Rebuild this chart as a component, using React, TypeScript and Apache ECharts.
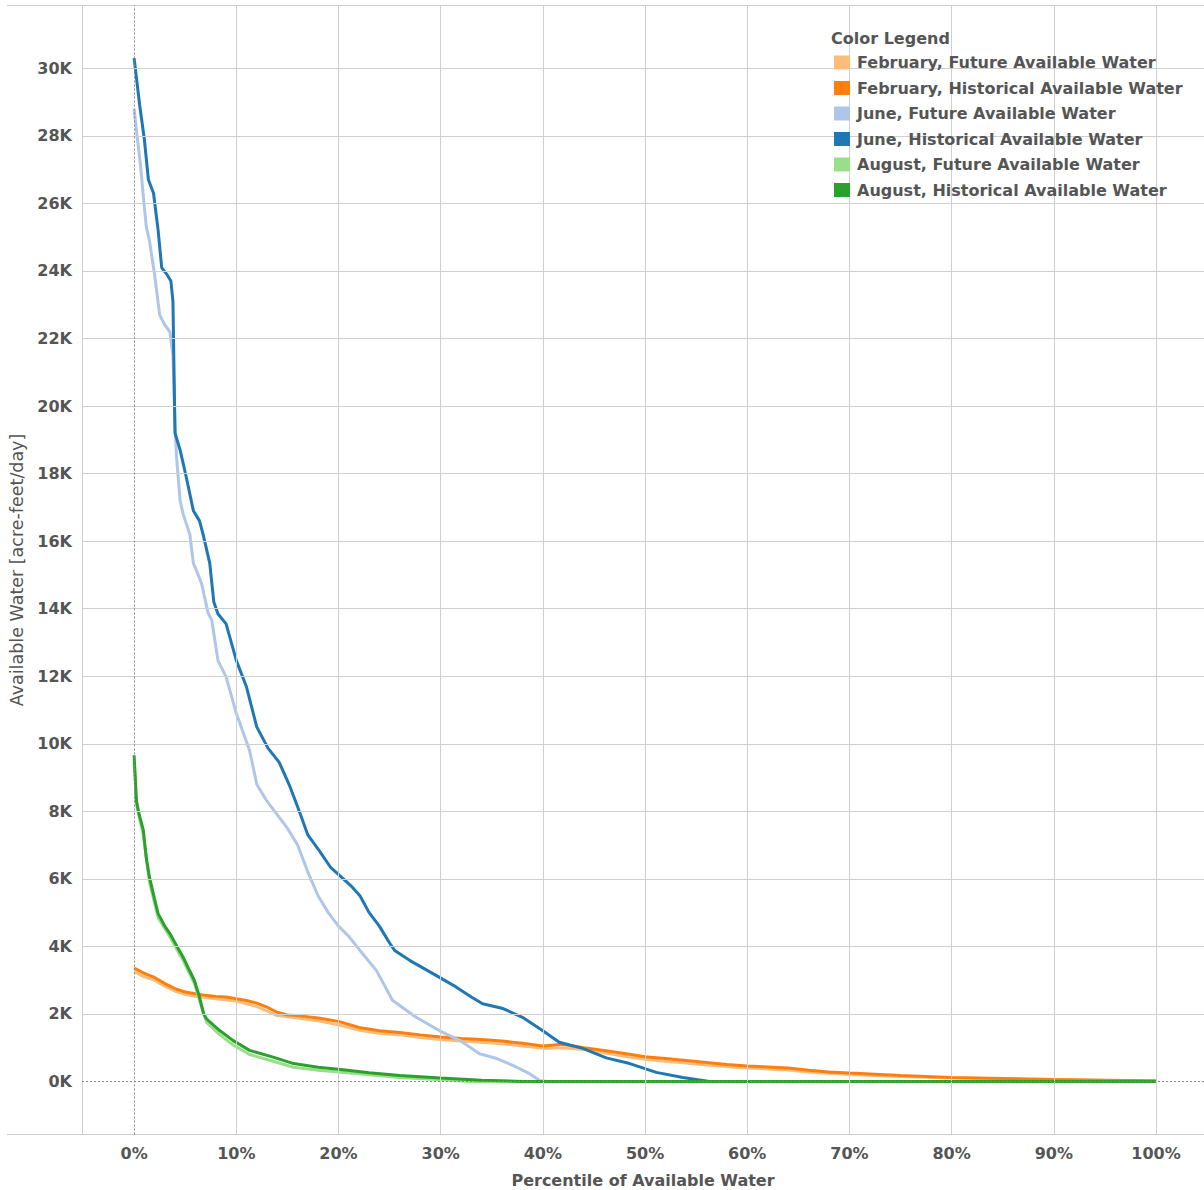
import React, { useEffect, useRef } from "react";
import * as echarts from "echarts";

// Values: x = percentile (%), y = available water (thousand acre-feet/day)
const febFuture: [number, number][] = [
  [0, 3.25], [1, 3.1], [2, 3.0], [3, 2.82], [4, 2.68], [5, 2.58], [6, 2.52], [8, 2.45], [10, 2.38],
  [12, 2.22], [14, 1.95], [16, 1.88], [18, 1.8], [20, 1.68], [22, 1.52], [24, 1.43], [26, 1.38],
  [28, 1.3], [30, 1.24], [32, 1.2], [34, 1.16], [36, 1.12], [38, 1.05], [40, 0.98], [42, 1.0],
  [44, 0.95], [46, 0.85], [48, 0.75], [50, 0.66], [52, 0.6], [54, 0.55], [56, 0.49], [58, 0.44],
  [60, 0.4], [62, 0.37], [64, 0.34], [66, 0.28], [68, 0.24], [70, 0.21], [75, 0.15], [80, 0.1],
  [85, 0.07], [90, 0.05], [95, 0.03], [100, 0.01],
];
const febHistorical: [number, number][] = [
  [0, 3.36], [1, 3.2], [2, 3.08], [3, 2.9], [4, 2.75], [5, 2.65], [6, 2.6], [7, 2.55], [8, 2.52],
  [9, 2.5], [10, 2.45], [11, 2.4], [12, 2.32], [13, 2.2], [14, 2.05], [15, 1.97], [16, 1.95],
  [18, 1.88], [20, 1.78], [22, 1.6], [24, 1.5], [26, 1.45], [28, 1.38], [30, 1.32], [32, 1.27],
  [34, 1.24], [36, 1.2], [38, 1.13], [40, 1.05], [42, 1.1], [44, 1.0], [46, 0.92], [48, 0.83],
  [50, 0.73], [52, 0.68], [54, 0.62], [56, 0.56], [58, 0.5], [60, 0.46], [62, 0.43], [64, 0.4],
  [66, 0.33], [68, 0.28], [70, 0.25], [75, 0.18], [80, 0.12], [85, 0.09], [90, 0.06], [95, 0.04],
  [100, 0.02],
];
const juneFuture: [number, number][] = [
  [0, 28.8], [0.25, 28.1], [0.6, 27.2], [1.0, 25.9], [1.2, 25.3], [1.5, 24.9], [2.0, 23.9],
  [2.5, 22.7], [3.0, 22.4], [3.5, 22.2], [3.8, 21.5], [4.0, 19.5], [4.15, 18.5], [4.5, 17.2],
  [4.8, 16.8], [5.45, 16.2], [5.8, 15.35], [6.6, 14.75], [7.24, 13.87], [7.6, 13.66], [8.2, 12.47],
  [9.0, 11.98], [10.0, 10.9], [11.3, 9.8], [12.0, 8.8], [13.0, 8.3], [14.0, 7.9], [15.0, 7.5],
  [16.0, 7.0], [17.0, 6.2], [18.0, 5.5], [19.0, 5.0], [20.0, 4.6], [21.0, 4.3], [22.1, 3.88],
  [23.7, 3.29], [25.3, 2.4], [27.6, 1.9], [29.9, 1.5], [31.9, 1.21], [33.8, 0.82], [35.5, 0.68],
  [37.1, 0.47], [38.7, 0.23], [39.7, 0.03], [40.5, 0], [100, 0],
];
const juneHistorical: [number, number][] = [
  [0, 30.3], [0.55, 28.9], [1.0, 27.9], [1.4, 26.7], [1.9, 26.3], [2.35, 25.2], [2.7, 24.1],
  [3.2, 23.9], [3.6, 23.7], [3.8, 23.1], [4.0, 19.2], [4.5, 18.7], [5.1, 17.9], [5.8, 16.9],
  [6.4, 16.6], [6.75, 16.2], [7.4, 15.35], [7.8, 14.2], [8.2, 13.85], [9.0, 13.55], [10.0, 12.47],
  [11.0, 11.68], [12.0, 10.5], [13.1, 9.87], [14.2, 9.45], [15.2, 8.77], [16.2, 7.97], [17.0, 7.3],
  [18.2, 6.8], [19.2, 6.35], [20.1, 6.1], [21.2, 5.8], [22.1, 5.5], [23.0, 5.0], [24.0, 4.6],
  [25.0, 4.1], [25.5, 3.88], [27.0, 3.58], [29.2, 3.2], [31.5, 2.8], [33.0, 2.5], [34.1, 2.3],
  [36.1, 2.16], [38.0, 1.9], [40.0, 1.5], [41.6, 1.16], [43.9, 0.98], [46.2, 0.7], [48.5, 0.53],
  [51.1, 0.27], [53.7, 0.12], [56.3, 0], [100, 0],
];
const augFuture: [number, number][] = [
  [0, 9.5], [0.23, 8.2], [0.9, 7.3], [1.5, 5.9], [2.35, 4.85], [3.5, 4.28], [4.8, 3.58],
  [5.9, 2.9], [6.4, 2.4], [7.1, 1.75], [8.4, 1.38], [9.7, 1.08], [11.3, 0.8], [13.6, 0.6],
  [15.6, 0.42], [18, 0.33], [20, 0.28], [23, 0.2], [26, 0.12], [30, 0.05], [33, 0], [100, 0],
];
const augHistorical: [number, number][] = [
  [0, 9.66], [0.23, 8.3], [0.5, 7.9], [0.9, 7.44], [1.2, 6.6], [1.5, 6.05], [2.0, 5.4],
  [2.35, 4.97], [3.0, 4.6], [3.5, 4.38], [4.2, 4.0], [4.8, 3.68], [5.4, 3.3], [5.9, 2.99],
  [6.4, 2.5], [6.8, 2.0], [7.1, 1.85], [8.4, 1.5], [9.7, 1.21], [11.3, 0.92], [13.6, 0.72],
  [15.6, 0.53], [18, 0.42], [20, 0.36], [23, 0.26], [26, 0.18], [30, 0.1], [34, 0.04], [38, 0],
  [100, 0],
];

const seriesNames = [
  "February, Future Available Water",
  "February, Historical Available Water",
  "June, Future Available Water",
  "June, Historical Available Water",
  "August, Future Available Water",
  "August, Historical Available Water",
];
const seriesColors = ["#ffbb78", "#ff7f0e", "#aec7e8", "#1f77b4", "#98df8a", "#2ca02c"];
const seriesData = [febFuture, febHistorical, juneFuture, juneHistorical, augFuture, augHistorical];

const xTicks = [0, 10, 20, 30, 40, 50, 60, 70, 80, 90, 100];
const yTicks = [0, 2, 4, 6, 8, 10, 12, 14, 16, 18, 20, 22, 24, 26, 28, 30];
const xMin = -5.1;
const xMax = 104.7;
const yMin = -1.57;
const yMax = 31.86;

const FONT = "'DejaVu Sans', Verdana, sans-serif";
const TXT = "#555555";
const GRID = "#cfcfcf";

export default function App() {
  const ref = useRef<HTMLDivElement>(null);
  useEffect(() => {
    if (!ref.current) return;
    const chart = echarts.init(ref.current, null, { renderer: "svg" });
    const gridLeft = 82;
    const gridTop = 5.5;
    const gridBottomY = 1134.5;
    const lines = seriesNames.map((name, i) => ({
      name,
      type: "line",
      data: seriesData[i],
      showSymbol: false,
      symbol: "none",
      z: 3,
      lineStyle: { color: seriesColors[i], width: 3 },
      itemStyle: { color: seriesColors[i] },
    }));
    chart.setOption({
      animation: false,
      grid: {
        left: gridLeft,
        top: gridTop,
        right: 0,
        bottom: 1190 - gridBottomY,
        containLabel: false,
        outerBoundsMode: "none",
      },
      xAxis: {
        type: "value",
        min: xMin,
        max: xMax,
        axisLine: { show: false },
        axisTick: { show: false },
        splitLine: { show: false },
        axisLabel: {
          customValues: xTicks,
          formatter: (v: number) => `${v}%`,
          color: TXT,
          fontFamily: FONT,
          fontWeight: "bold",
          fontSize: 16,
          margin: 11,
        },
        name: "Percentile of Available Water",
        nameLocation: "middle",
        nameGap: 38,
        nameTextStyle: { color: TXT, fontFamily: FONT, fontWeight: "bold", fontSize: 16 },
      },
      yAxis: {
        type: "value",
        min: yMin,
        max: yMax,
        axisLine: { show: false },
        axisTick: { show: false },
        splitLine: { show: false },
        axisLabel: {
          customValues: yTicks,
          formatter: (v: number) => `${v}K`,
          color: TXT,
          fontFamily: FONT,
          fontWeight: "bold",
          fontSize: 16,
          margin: 10,
        },
        name: "Available Water [acre-feet/day]",
        nameLocation: "middle",
        nameRotate: 90,
        nameGap: 44,
        nameTextStyle: { color: TXT, fontFamily: FONT, fontWeight: "normal", fontSize: 17.5 },
      },
      legend: {
        data: seriesNames,
        orient: "vertical",
        left: 829,
        top: 49.5,
        icon: "rect",
        itemWidth: 16,
        itemHeight: 14,
        itemGap: 9.5,
        selectedMode: false,
        z: 6,
        textStyle: {
          color: TXT,
          fontFamily: FONT,
          fontWeight: "bold",
          fontSize: 16,
          lineHeight: 16,
          padding: [0, 0, 0, 2],
        },
      },
      graphic: [
        { type: "line", z: 1, shape: { x1: 7, y1: gridTop, x2: 1204, y2: gridTop }, style: { stroke: GRID, lineWidth: 1 } },
        { type: "line", z: 1, shape: { x1: 7, y1: gridBottomY, x2: 1204, y2: gridBottomY }, style: { stroke: GRID, lineWidth: 1 } },
        { type: "line", z: 1, shape: { x1: gridLeft + 0.5, y1: gridTop, x2: gridLeft + 0.5, y2: gridBottomY }, style: { stroke: GRID, lineWidth: 1 } },
        { type: "rect", z: 5, shape: { x: 823, y: 23, width: 367, height: 179 }, style: { fill: "#ffffff" } },
        {
          type: "text",
          z: 6,
          x: 831,
          y: 38.5,
          style: { text: "Color Legend", fill: TXT, font: `bold 16px ${FONT}`, textVerticalAlign: "middle" },
        },
      ],
      series: [
        {
          name: "gridlines",
          type: "line",
          data: [],
          z: 1,
          silent: true,
          markLine: {
            silent: true,
            symbol: "none",
            label: { show: false },
            lineStyle: { color: GRID, type: "solid", width: 1 },
            data: [
              ...xTicks.filter((v) => v !== 0).map((v) => ({ xAxis: v })),
              ...yTicks.filter((v) => v !== 0).map((v) => ({ yAxis: v })),
            ],
          },
        },
        {
          name: "zerolines",
          type: "line",
          data: [],
          z: 2,
          silent: true,
          markLine: {
            silent: true,
            symbol: "none",
            label: { show: false },
            lineStyle: { color: "#8a8a8a", type: [2, 2], width: 1 },
            data: [{ xAxis: 0 }, { yAxis: 0 }],
          },
        },
        ...lines,
      ],
    });
    return () => chart.dispose();
  }, []);
  return (
    <div
      ref={ref}
      style={{ position: "fixed", left: 0, top: 0, width: 1204, height: 1190, background: "#ffffff" }}
    />
  );
}
